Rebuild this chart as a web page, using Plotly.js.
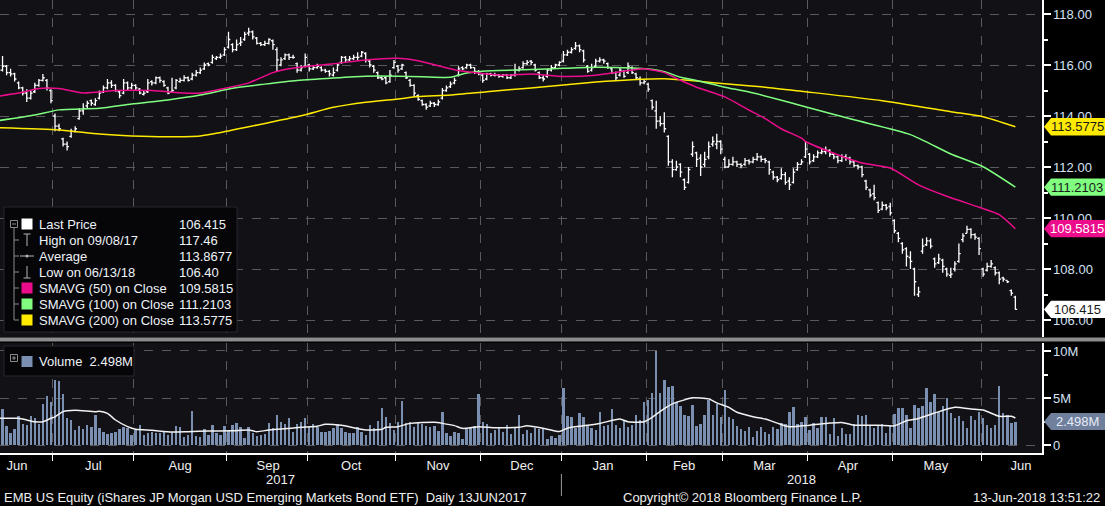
<!DOCTYPE html>
<html>
<head>
<meta charset="utf-8">
<script src="https://cdn.plot.ly/plotly-3.0.1.min.js"></script>
<style>
  html, body { margin: 0; padding: 0; background: #000; }
  #chart { width: 1105px; height: 506px; }
</style>
</head>
<body>
<div id="chart"></div>
<script>
    // --- DATA: EMB US Equity, daily bars 13JUN2017 - 13JUN2018 (one entry per trading day) ---
    const closes = [
        115.80,115.95,115.70,115.65,115.45,115.10,114.90,114.70,114.90,115.20,
        115.40,115.50,115.10,114.60,113.60,113.50,112.90,112.80,113.40,113.50,
        114.20,114.30,114.50,114.50,114.60,114.90,115.10,115.30,115.20,115.00,
        114.80,115.30,115.10,115.20,115.10,114.90,114.90,115.30,115.30,115.50,
        115.40,115.20,114.90,115.00,115.40,115.40,115.50,115.40,115.60,115.70,
        115.80,116.00,116.00,116.30,116.30,116.35,116.60,117.00,116.60,116.80,
        116.90,117.20,117.30,117.10,116.85,116.80,116.85,117.00,116.80,116.20,
        116.20,116.40,116.30,116.30,115.80,115.90,116.30,115.85,115.90,115.95,
        115.80,115.75,115.65,115.70,116.00,116.30,116.20,116.25,116.30,116.30,
        116.50,116.20,116.00,115.80,115.50,115.45,115.30,115.60,116.10,115.80,
        116.00,115.50,115.20,114.90,114.65,114.45,114.35,114.50,114.45,114.55,
        115.00,115.10,115.25,115.40,115.85,115.85,116.00,115.90,115.75,115.65,
        115.40,115.65,115.60,115.60,115.55,115.60,115.50,115.60,115.80,115.85,
        116.05,116.10,116.10,115.80,115.50,115.45,115.80,115.90,116.00,116.10,
        116.40,116.50,116.60,116.75,116.60,116.20,115.75,115.90,116.15,116.20,
        116.15,115.90,115.70,115.50,115.80,115.55,115.95,115.70,115.50,115.30,
        115.35,115.05,114.35,113.80,113.70,113.50,112.20,111.90,112.00,111.80,
        111.20,111.90,112.80,112.30,112.00,112.30,112.80,113.00,113.00,112.70,
        112.00,112.10,112.20,112.10,112.05,112.25,112.20,112.30,112.40,112.30,
        112.25,111.90,111.60,111.50,111.70,111.40,111.30,111.80,112.10,112.20,
        112.70,112.20,112.40,112.55,112.60,112.65,112.50,112.40,112.25,112.40,
        112.35,112.20,112.05,112.00,111.70,111.20,110.90,110.80,110.30,110.50,
        110.40,110.20,109.50,109.20,108.75,108.50,108.30,107.50,107.10,108.90,
        109.10,108.90,108.20,108.40,108.10,107.80,107.80,108.20,108.60,109.30,
        109.55,109.35,109.25,108.80,107.80,108.10,108.20,107.85,107.60,107.60,
        107.50,107.05,106.415
    ];
    const opens = [
        115.95,115.80,115.95,115.70,115.65,115.30,115.10,114.90,114.70,114.95,
        115.20,115.40,115.40,115.00,114.00,113.60,113.10,112.90,113.20,113.40,
        113.90,114.20,114.40,114.60,114.45,114.70,114.95,115.10,115.30,115.20,
        114.95,114.90,115.30,115.10,115.20,115.05,114.85,114.95,115.35,115.30,
        115.50,115.35,115.10,114.95,115.10,115.35,115.40,115.50,115.45,115.60,
        115.70,115.85,116.05,116.10,116.25,116.30,116.40,116.70,116.80,116.60,
        116.85,117.00,117.25,117.30,117.05,116.85,116.80,116.85,116.95,116.60,
        116.00,116.25,116.40,116.30,116.05,115.80,115.95,116.00,115.85,115.90,
        115.90,115.80,115.75,115.60,115.80,116.10,116.30,116.20,116.25,116.30,
        116.35,116.45,116.15,115.95,115.70,115.50,115.50,115.35,115.90,115.95,
        115.85,115.70,115.40,115.20,114.80,114.60,114.45,114.40,114.50,114.45,
        114.70,115.00,115.15,115.30,115.60,115.90,115.90,116.00,115.90,115.75,
        115.60,115.45,115.65,115.60,115.60,115.55,115.60,115.50,115.60,115.80,
        115.90,116.05,116.15,116.00,115.70,115.50,115.55,115.80,115.90,116.00,
        116.15,116.40,116.50,116.65,116.75,116.55,115.95,115.80,115.95,116.15,
        116.20,116.05,115.85,115.70,115.60,115.75,115.70,115.90,115.65,115.45,
        115.30,115.25,114.60,114.20,113.80,113.70,113.20,112.20,111.90,112.10,
        111.50,111.40,112.50,112.55,112.35,112.10,112.40,112.90,112.90,113.00,
        112.30,112.00,112.10,112.20,112.10,112.10,112.25,112.20,112.30,112.40,
        112.30,112.20,111.80,111.60,111.55,111.70,111.45,111.40,111.90,112.10,
        112.40,112.50,112.25,112.40,112.55,112.60,112.65,112.50,112.40,112.25,
        112.40,112.35,112.20,112.05,112.00,111.45,111.10,110.95,110.60,110.35,
        110.50,110.45,109.90,109.40,109.00,108.80,108.45,108.00,107.00,108.70,
        108.95,109.10,108.40,108.25,108.35,108.00,107.75,108.00,108.30,109.15,
        109.40,109.55,109.35,109.20,108.00,107.95,108.10,108.05,107.85,107.65,
        107.55,107.15,106.90
    ];
    const highs = [
        116.05,116.35,116.00,115.85,115.70,115.35,115.15,115.05,115.00,115.30,
        115.45,115.65,115.45,115.05,114.10,113.70,113.15,113.00,113.50,113.60,
        114.30,114.50,114.60,114.65,114.70,115.00,115.20,115.45,115.40,115.25,
        115.00,115.45,115.35,115.30,115.25,115.10,115.00,115.45,115.40,115.55,
        115.55,115.40,115.15,115.50,115.45,115.50,115.60,115.55,115.70,115.80,
        115.90,116.10,116.10,116.40,116.35,116.45,116.70,117.30,116.85,117.00,
        117.10,117.30,117.46,117.35,117.10,116.90,116.95,117.05,117.00,116.70,
        116.30,116.45,116.45,116.40,116.10,116.00,116.45,116.05,116.00,116.05,
        115.95,115.85,115.80,115.90,116.05,116.35,116.35,116.35,116.40,116.50,
        116.55,116.50,116.20,116.00,115.75,115.55,115.55,115.80,116.20,116.00,
        116.05,115.75,115.45,115.25,114.85,114.65,114.50,114.60,114.55,114.65,
        115.10,115.20,115.35,115.50,115.95,115.95,116.05,116.05,115.90,115.80,
        115.65,115.70,115.70,115.70,115.65,115.65,115.65,115.65,116.05,115.95,
        116.15,116.20,116.20,116.05,115.75,115.60,115.85,116.00,116.05,116.15,
        116.55,116.60,116.70,116.90,116.80,116.60,116.00,116.05,116.25,116.30,
        116.25,116.10,115.90,115.75,115.90,115.80,116.10,115.95,115.70,115.55,
        115.45,115.30,114.65,114.60,114.00,114.15,113.25,112.30,112.25,112.15,
        111.55,112.00,113.00,112.60,112.50,112.60,113.00,113.20,113.30,113.05,
        112.40,112.30,112.40,112.25,112.15,112.35,112.30,112.40,112.55,112.45,
        112.35,112.25,111.85,111.65,111.95,111.80,111.60,111.95,112.20,112.30,
        113.00,112.55,112.50,112.65,112.75,112.80,112.70,112.55,112.45,112.50,
        112.50,112.40,112.25,112.10,112.05,111.50,111.15,111.30,110.65,110.65,
        110.55,110.60,109.95,109.45,109.05,108.85,108.70,108.05,107.30,109.20,
        109.25,109.20,108.45,108.60,108.40,108.05,108.05,108.30,109.00,109.40,
        109.70,109.60,109.40,109.25,108.05,108.25,108.35,108.10,107.90,107.70,
        107.55,107.20,106.95
    ];
    const lows = [
        115.70,115.75,115.60,115.55,115.35,115.05,114.80,114.55,114.65,114.90,
        115.15,115.35,115.00,114.50,113.40,113.40,112.80,112.65,113.15,113.35,
        113.85,114.05,114.30,114.40,114.40,114.65,114.90,115.05,115.10,114.95,
        114.70,114.85,115.00,115.05,115.00,114.85,114.80,114.90,115.20,115.25,
        115.30,115.15,114.85,114.90,115.05,115.30,115.35,115.35,115.40,115.55,
        115.65,115.80,115.95,116.05,116.20,116.25,116.35,116.65,116.50,116.55,
        116.75,116.95,117.15,117.00,116.80,116.75,116.75,116.80,116.60,115.75,
        115.95,116.20,116.20,116.25,115.70,115.75,115.90,115.75,115.80,115.85,
        115.75,115.70,115.55,115.55,115.75,116.05,116.10,116.15,116.20,116.20,
        116.30,116.10,115.90,115.70,115.45,115.40,115.25,115.30,115.85,115.70,
        115.80,115.45,115.15,114.75,114.60,114.40,114.25,114.35,114.35,114.40,
        114.65,114.95,115.10,115.25,115.55,115.80,115.85,115.85,115.65,115.60,
        115.30,115.40,115.55,115.55,115.50,115.50,115.45,115.45,115.55,115.75,
        115.85,116.00,116.00,115.75,115.45,115.35,115.50,115.75,115.85,115.95,
        116.10,116.35,116.45,116.60,116.50,116.10,115.70,115.75,115.90,116.10,
        116.05,115.85,115.65,115.40,115.55,115.50,115.65,115.65,115.45,115.20,
        115.25,114.95,114.25,113.50,113.60,113.35,112.05,111.60,111.85,111.60,
        111.10,111.35,112.40,112.00,111.65,112.00,112.30,112.80,112.70,112.50,
        111.95,112.00,112.05,112.00,111.95,112.05,112.10,112.15,112.25,112.20,
        112.15,111.70,111.50,111.40,111.50,111.30,111.10,111.35,111.85,112.10,
        112.35,112.10,112.20,112.35,112.50,112.50,112.40,112.30,112.15,112.20,
        112.25,112.10,112.00,111.90,111.60,111.10,110.80,110.70,110.20,110.30,
        110.30,110.10,109.40,109.05,108.60,108.10,108.00,106.95,106.90,108.60,
        108.90,108.80,108.05,108.20,107.85,107.70,107.65,107.90,108.25,109.05,
        109.40,109.20,109.15,108.55,107.70,107.90,108.05,107.75,107.40,107.50,
        107.45,106.95,106.40
    ];
    // volume in millions of shares
    const volumes = [
        1.06,3.83,2.00,1.30,1.67,3.10,2.23,2.13,3.10,2.84,
        2.23,4.36,5.20,4.57,6.90,6.80,5.43,2.84,2.66,1.60,
        2.00,1.67,2.13,1.88,3.19,1.77,1.38,1.17,1.30,1.38,
        1.67,1.88,1.77,1.06,1.60,2.13,1.06,1.30,1.38,1.24,
        1.24,1.52,1.06,1.42,2.00,1.88,0.89,1.06,3.60,0.96,
        0.89,1.67,1.06,2.13,1.24,1.06,2.00,1.60,2.13,2.38,
        1.88,0.71,1.95,1.30,0.96,1.03,1.17,2.38,1.77,3.19,
        2.48,2.23,2.84,1.42,2.23,2.48,2.84,1.95,2.23,1.95,
        1.42,1.42,1.52,1.77,2.23,1.77,1.42,1.24,1.30,1.88,
        1.42,1.06,2.13,1.77,2.59,3.97,3.00,2.38,1.60,2.48,
        4.68,2.30,2.48,1.88,2.48,2.23,2.00,1.95,2.00,1.52,
        3.55,1.30,0.96,1.42,1.30,0.60,1.67,1.88,2.00,5.39,
        2.48,2.23,1.30,1.60,1.88,1.42,2.13,1.17,1.86,3.23,
        1.15,1.61,1.25,1.86,1.68,1.76,0.61,0.97,0.79,1.04,
        6.06,3.12,3.01,1.76,3.40,3.01,2.15,1.86,1.61,3.55,
        2.04,2.15,3.84,2.15,1.86,2.58,1.94,2.15,3.23,2.69,
        4.62,4.84,5.56,10.00,5.56,6.88,6.13,6.24,4.55,4.19,
        3.23,3.12,4.30,2.04,2.26,3.23,4.84,3.23,4.37,2.94,
        5.81,3.01,2.76,2.04,1.68,1.51,1.94,0.86,1.51,1.94,
        1.40,1.22,1.94,1.68,2.33,2.22,3.48,4.09,2.22,2.40,
        3.01,1.61,2.29,1.76,3.01,3.01,1.22,2.83,0.97,1.76,
        1.22,1.22,2.22,3.23,3.12,3.23,2.04,1.76,1.97,2.22,
        1.33,2.04,3.30,3.91,3.91,3.23,1.86,4.30,3.91,4.12,
        6.06,4.62,5.38,3.55,4.19,4.98,3.37,2.83,3.12,2.58,
        1.76,3.12,2.69,3.48,2.83,2.15,1.76,2.15,6.24,3.37,
        3.23,2.29,2.498
    ];

    // moving averages at sample days (trading-day index, value)
    const sma50Day = [0, 5, 10, 15, 21, 29, 38, 46, 50, 55, 62, 68, 72, 74, 83, 91, 99, 104, 109, 114, 121, 126, 132, 140, 148, 157, 160, 165, 169, 173, 180, 186, 190, 194, 199, 200, 206, 214, 221, 228, 235, 243, 248, 252];
    const sma50Val = [114.78, 114.90, 115.08, 115.08, 114.90, 115.00, 115.00, 114.90, 114.90, 115.05, 115.30, 115.70, 115.85, 115.90, 116.05, 116.20, 116.26, 116.17, 115.97, 115.78, 115.65, 115.60, 115.65, 115.55, 115.60, 115.80, 115.85, 115.70, 115.40, 115.13, 114.75, 114.23, 113.90, 113.50, 113.13, 113.00, 112.60, 112.16, 111.96, 111.30, 110.85, 110.42, 110.13, 109.5815];
    const sma100Day = [0, 9, 15, 25, 33, 42, 50, 58, 66, 74, 83, 91, 99, 105, 112, 116, 119, 124, 132, 140, 148, 157, 161, 165, 169, 173, 180, 186, 194, 199, 212, 226, 236, 244, 252];
    const sma100Val = [113.82, 114.04, 114.24, 114.30, 114.47, 114.63, 114.82, 115.09, 115.25, 115.39, 115.49, 115.56, 115.56, 115.54, 115.52, 115.69, 115.74, 115.78, 115.82, 115.87, 115.91, 115.88, 115.84, 115.74, 115.52, 115.39, 115.13, 114.94, 114.62, 114.40, 113.85, 113.27, 112.51, 112.01, 111.2103];
    const sma200Day = [0, 15, 25, 33, 42, 50, 54, 62, 75, 83, 91, 99, 104, 112, 121, 132, 140, 148, 157, 165, 173, 180, 190, 199, 219, 236, 244, 252];
    const sma200Val = [113.54, 113.45, 113.29, 113.22, 113.19, 113.22, 113.32, 113.58, 114.01, 114.34, 114.54, 114.67, 114.76, 114.82, 114.95, 115.10, 115.22, 115.33, 115.42, 115.46, 115.37, 115.26, 115.13, 114.97, 114.60, 114.17, 113.97, 113.5775];
    const volAvgDay = [0, 5, 7, 9, 11, 13, 14, 16, 19, 24, 25, 27, 29, 32, 34, 38, 43, 47, 52, 58, 62, 64, 67, 70, 75, 79, 81, 85, 88, 91, 95, 96, 99, 102, 108, 110, 113, 115, 119, 123, 129, 131, 136, 139, 141, 145, 149, 154, 156, 160, 162, 164, 167, 170, 172, 176, 178, 181, 183, 187, 190, 193, 196, 201, 206, 209, 212, 218, 222, 225, 228, 232, 237, 241, 244, 248, 251, 252];
    const volAvgVal = [2.84, 2.84, 2.66, 2.48, 2.48, 2.84, 3.00, 3.55, 3.69, 3.55, 3.60, 3.37, 2.66, 1.95, 1.67, 1.56, 1.38, 1.42, 1.49, 1.52, 1.60, 1.42, 1.60, 1.70, 1.88, 2.00, 2.20, 2.09, 1.84, 1.60, 1.67, 1.88, 1.95, 2.30, 2.41, 2.30, 2.06, 1.77, 1.95, 1.84, 1.88, 2.04, 1.68, 1.43, 1.79, 2.04, 2.29, 2.76, 2.47, 2.47, 2.94, 3.58, 4.37, 4.80, 5.02, 4.91, 4.48, 4.01, 3.48, 3.01, 2.76, 2.33, 1.94, 2.11, 2.33, 2.40, 2.11, 2.11, 2.04, 2.58, 2.83, 3.40, 4.01, 3.84, 3.73, 3.05, 3.05, 2.87];

    // first trading day of each month after the start (index into the arrays)
    const monthStartDay = [14, 34, 57, 77, 99, 120, 140, 161, 180, 201, 222, 244];
    const monthNames = ['Jun', 'Jul', 'Aug', 'Sep', 'Oct', 'Nov', 'Dec', 'Jan', 'Feb', 'Mar', 'Apr', 'May', 'Jun'];

    const legendRows = [
        ['Last Price', '106.415'],
        ['High on 09/08/17', '117.46'],
        ['Average', '113.8677'],
        ['Low on 06/13/18', '106.40'],
        ['SMAVG (50) on Close', '109.5815'],
        ['SMAVG (100) on Close', '111.2103'],
        ['SMAVG (200) on Close', '113.5775']
    ];

    // --- STYLE ---
    const FONT = 'Liberation Sans, Arial, sans-serif';
    const C_SMA50 = '#ec0d8c';
    const C_SMA100 = '#80ff80';
    const C_SMA200 = '#ffea00';
    const C_VOL = '#7b8fb1';
    const GRID = '#5a5a5e';
    const AXTXT = '#d4e2f4';

    // pixel helpers: plot area is 1042 x 453 px
    const PW = 1042, PH = 453;
    const px = p => p / PW;
    const py = p => 1 - p / PH;

    const days = closes.map((_, i) => i);
    const xRange = [0.37, 258.6];
    const boundaries = monthStartDay.map(d => d - 0.5);
    const labelPos = [4.6, 23.5, 45, 66.8, 87.4, 108.9, 129.7, 149.8, 169.9, 189.8, 210.5, 232.3, 253.4];

    const traces = [
        {
            type: 'ohlc', x: days, open: opens, high: highs, low: lows, close: closes,
            xaxis: 'x', yaxis: 'y', tickwidth: 0.45, hoverinfo: 'skip',
            increasing: { line: { color: '#ffffff', width: 1.3 } },
            decreasing: { line: { color: '#ffffff', width: 1.3 } }
        },
        { type: 'scatter', mode: 'lines', x: sma200Day, y: sma200Val, xaxis: 'x', yaxis: 'y',
          line: { color: C_SMA200, width: 1.5, shape: 'spline', smoothing: 0.6 } },
        { type: 'scatter', mode: 'lines', x: sma100Day, y: sma100Val, xaxis: 'x', yaxis: 'y',
          line: { color: C_SMA100, width: 1.5, shape: 'spline', smoothing: 0.6 } },
        { type: 'scatter', mode: 'lines', x: sma50Day, y: sma50Val, xaxis: 'x', yaxis: 'y',
          line: { color: C_SMA50, width: 1.5, shape: 'spline', smoothing: 0.6 } },
        { type: 'bar', x: days, y: volumes, xaxis: 'x2', yaxis: 'y2', width: 0.6,
          marker: { color: C_VOL, line: { width: 0 } } },
        { type: 'scatter', mode: 'lines', x: volAvgDay, y: volAvgVal, xaxis: 'x2', yaxis: 'y2',
          line: { color: '#f2f2f2', width: 1.5, shape: 'spline', smoothing: 0.6 } }
    ];

    // --- SHAPES & ANNOTATIONS ---
    const shapes = [];
    const annotations = [];

    // divider between price and volume panels
    shapes.push({ type: 'rect', xref: 'paper', yref: 'paper', x0: 0, x1: 1105 / PW,
        y0: py(341.5), y1: py(337.5), fillcolor: '#8c8c8c', line: { width: 0 }, layer: 'above' });

    // right-axis value tags
    function priceTag(val, text, bg, fg, yref, halfH) {
        const x0 = px(1044), x1 = px(1051), x2 = px(1108);
        shapes.push({ type: 'path', xref: 'paper', yref: yref, layer: 'above',
            path: `M ${x0},${val} L ${x1},${val + halfH} L ${x2},${val + halfH} L ${x2},${val - halfH} L ${x1},${val - halfH} Z`,
            fillcolor: bg, line: { width: 0 } });
        annotations.push({ xref: 'paper', yref: yref, x: px(1077), y: val, text: text,
            showarrow: false, xanchor: 'center', yanchor: 'middle',
            font: { family: FONT, size: 13, color: fg } });
    }
    priceTag(113.5775, '113.5775', C_SMA200, '#1a1a1a', 'y', 0.34);
    priceTag(111.2103, '111.2103', C_SMA100, '#1a1a1a', 'y', 0.34);
    priceTag(109.5815, '109.5815', C_SMA50, '#ffffff', 'y', 0.34);
    priceTag(106.415, '106.415', '#ffffff', '#1a1a1a', 'y', 0.34);
    priceTag(2.498, '2.498M', '#6f7f9c', '#e6ecf6', 'y2', 0.9);

    // price legend box
    shapes.push({ type: 'rect', xref: 'paper', yref: 'paper', x0: px(4), x1: px(237),
        y0: py(332), y1: py(207), fillcolor: '#060608', line: { color: '#26262c', width: 1 }, layer: 'above' });
    const rowY = [224, 240, 256, 272, 288, 304, 320];
    const treeColor = '#8a8a8a';
    // tree lines
    shapes.push({ type: 'line', xref: 'paper', yref: 'paper', x0: px(14), x1: px(14), y0: py(226), y1: py(320),
        line: { color: treeColor, width: 1 }, layer: 'above' });
    rowY.slice(1).forEach(y => shapes.push({ type: 'line', xref: 'paper', yref: 'paper',
        x0: px(14), x1: px(19), y0: py(y), y1: py(y), line: { color: treeColor, width: 1 }, layer: 'above' }));
    // collapse box
    shapes.push({ type: 'rect', xref: 'paper', yref: 'paper', x0: px(10.5), x1: px(17.5), y0: py(227.5), y1: py(220.5),
        fillcolor: '#060608', line: { color: treeColor, width: 1 }, layer: 'above' });
    shapes.push({ type: 'line', xref: 'paper', yref: 'paper', x0: px(12), x1: px(16), y0: py(224), y1: py(224),
        line: { color: treeColor, width: 1 }, layer: 'above' });
    // colour squares
    [[0, '#ffffff'], [4, C_SMA50], [5, C_SMA100], [6, C_SMA200]].forEach(([r, c]) => {
        shapes.push({ type: 'rect', xref: 'paper', yref: 'paper', x0: px(21.5), x1: px(32.5),
            y0: py(rowY[r] + 5.5), y1: py(rowY[r] - 5.5), fillcolor: c, line: { width: 0 }, layer: 'above' });
    });
    // high / average / low glyphs
    const gl = { color: '#b4b4b4', width: 1 };
    shapes.push({ type: 'line', xref: 'paper', yref: 'paper', x0: px(27), x1: px(27), y0: py(234), y1: py(246), line: gl, layer: 'above' });
    shapes.push({ type: 'line', xref: 'paper', yref: 'paper', x0: px(23.5), x1: px(30.5), y0: py(234), y1: py(234), line: gl, layer: 'above' });
    shapes.push({ type: 'line', xref: 'paper', yref: 'paper', x0: px(20), x1: px(34), y0: py(256), y1: py(256), line: gl, layer: 'above' });
    shapes.push({ type: 'circle', xref: 'paper', yref: 'paper', x0: px(25.5), x1: px(28.5), y0: py(257.5), y1: py(254.5),
        fillcolor: '#b4b4b4', line: { width: 0 }, layer: 'above' });
    shapes.push({ type: 'line', xref: 'paper', yref: 'paper', x0: px(27), x1: px(27), y0: py(266), y1: py(278), line: gl, layer: 'above' });
    shapes.push({ type: 'line', xref: 'paper', yref: 'paper', x0: px(23.5), x1: px(30.5), y0: py(278), y1: py(278), line: gl, layer: 'above' });

    legendRows.forEach(([label, value], i) => {
        annotations.push({ xref: 'paper', yref: 'paper', x: px(37), y: py(rowY[i]), text: label,
            showarrow: false, xanchor: 'left', yanchor: 'middle', font: { family: FONT, size: 13, color: '#eef2f8' } });
        annotations.push({ xref: 'paper', yref: 'paper', x: px(177), y: py(rowY[i]), text: value,
            showarrow: false, xanchor: 'left', yanchor: 'middle', font: { family: FONT, size: 13, color: '#eef2f8' } });
    });

    // volume legend box
    shapes.push({ type: 'rect', xref: 'paper', yref: 'paper', x0: px(4), x1: px(134),
        y0: py(376), y1: py(346), fillcolor: '#060608', line: { color: '#26262c', width: 1 }, layer: 'above' });
    shapes.push({ type: 'rect', xref: 'paper', yref: 'paper', x0: px(10.5), x1: px(17.5), y0: py(361.5), y1: py(354.5),
        fillcolor: '#060608', line: { color: treeColor, width: 1 }, layer: 'above' });
    shapes.push({ type: 'line', xref: 'paper', yref: 'paper', x0: px(12), x1: px(16), y0: py(358), y1: py(358),
        line: { color: treeColor, width: 1 }, layer: 'above' });
    shapes.push({ type: 'line', xref: 'paper', yref: 'paper', x0: px(14), x1: px(14), y0: py(356), y1: py(360),
        line: { color: treeColor, width: 1 }, layer: 'above' });
    shapes.push({ type: 'rect', xref: 'paper', yref: 'paper', x0: px(21.5), x1: px(32.5), y0: py(367), y1: py(356),
        fillcolor: C_VOL, line: { width: 0 }, layer: 'above' });
    annotations.push({ xref: 'paper', yref: 'paper', x: px(37), y: py(361.5), text: 'Volume  2.498M',
        showarrow: false, xanchor: 'left', yanchor: 'middle', font: { family: FONT, size: 13, color: '#eef2f8' } });

    // year labels, separator and footer
    annotations.push({ xref: 'x2', yref: 'paper', x: 69.8, y: py(479), text: '2017', showarrow: false,
        xanchor: 'center', yanchor: 'middle', font: { family: FONT, size: 13, color: '#f0f0f0' } });
    annotations.push({ xref: 'x2', yref: 'paper', x: 198.9, y: py(479), text: '2018', showarrow: false,
        xanchor: 'center', yanchor: 'middle', font: { family: FONT, size: 13, color: '#f0f0f0' } });
    shapes.push({ type: 'line', xref: 'x2', yref: 'paper', x0: 139.5, x1: 139.5, y0: py(474), y1: py(496),
        line: { color: '#9a9a9a', width: 1 } });
    annotations.push({ xref: 'paper', yref: 'paper', x: px(2), y: py(497),
        text: 'EMB US Equity (iShares JP Morgan USD Emerging Markets Bond ETF)  Daily 13JUN2017',
        showarrow: false, xanchor: 'left', yanchor: 'middle', font: { family: FONT, size: 13, color: '#f0f0f0' } });
    annotations.push({ xref: 'paper', yref: 'paper', x: px(742), y: py(497),
        text: 'Copyright\u00a9 2018 Bloomberg Finance L.P.',
        showarrow: false, xanchor: 'center', yanchor: 'middle', font: { family: FONT, size: 13, color: '#f0f0f0' } });
    annotations.push({ xref: 'paper', yref: 'paper', x: px(1102), y: py(497),
        text: '13-Jun-2018 13:51:22',
        showarrow: false, xanchor: 'right', yanchor: 'middle', font: { family: FONT, size: 13, color: '#f0f0f0' } });

    // --- LAYOUT ---
    const layout = {
        width: 1105, height: 506,
        margin: { l: 0, r: 63, t: 0, b: 53, pad: 0 },
        paper_bgcolor: '#000000',
        plot_bgcolor: '#111116',
        showlegend: false,
        font: { family: FONT, size: 13, color: AXTXT },
        xaxis: {
            domain: [0, 1], range: xRange, anchor: 'y', showticklabels: false, ticks: '',
            tickvals: boundaries, showgrid: true, gridcolor: GRID, griddash: 'dash', gridwidth: 1, zeroline: false,
            rangeslider: { visible: false }, fixedrange: true
        },
        xaxis2: {
            domain: [0, 1], range: xRange, anchor: 'y2',
            tickvals: labelPos, ticktext: monthNames, ticks: '', showgrid: false, zeroline: false,
            tickfont: { family: FONT, size: 13, color: '#f0f0f0' },
            minor: { tickvals: boundaries, ticks: 'outside', ticklen: 6, tickcolor: '#ffffff', tickwidth: 1,
                     showgrid: true, gridcolor: GRID, griddash: 'dash', gridwidth: 1 },
            showline: true, linecolor: '#ffffff', linewidth: 1.5, fixedrange: true
        },
        yaxis: {
            domain: [py(337), 1], range: [118 - 323 / 25.5, 118 + 14 / 25.5], side: 'right', anchor: 'x',
            tick0: 106, dtick: 2, tickformat: '.2f', ticks: 'outside', ticklen: 7, tickwidth: 2, tickcolor: '#ffffff',
            minor: { dtick: 1, ticks: 'outside', ticklen: 4, tickcolor: '#ffffff', showgrid: false },
            showline: true, linecolor: '#ffffff', linewidth: 1.5,
            showgrid: true, gridcolor: GRID, griddash: 'dash', zeroline: false,
            tickfont: { family: FONT, size: 13, color: AXTXT }
        },
        yaxis2: {
            domain: [0, py(343)], range: [-0.85, 10.85], side: 'right', anchor: 'x2',
            tickvals: [0, 5, 10], ticktext: ['0', '5M', '10M'], ticks: 'outside', ticklen: 7, tickwidth: 2, tickcolor: '#ffffff',
            minor: { tickvals: [2.5, 7.5], ticks: 'outside', ticklen: 4, tickcolor: '#ffffff', showgrid: false },
            showline: true, linecolor: '#ffffff', linewidth: 1.5,
            showgrid: true, gridcolor: GRID, griddash: 'dash', zeroline: false,
            tickfont: { family: FONT, size: 13, color: AXTXT }
        },
        bargap: 0,
        shapes: shapes,
        annotations: annotations
    };

    Plotly.newPlot('chart', traces, layout, { displayModeBar: false, staticPlot: true });
</script>
</body>
</html>
